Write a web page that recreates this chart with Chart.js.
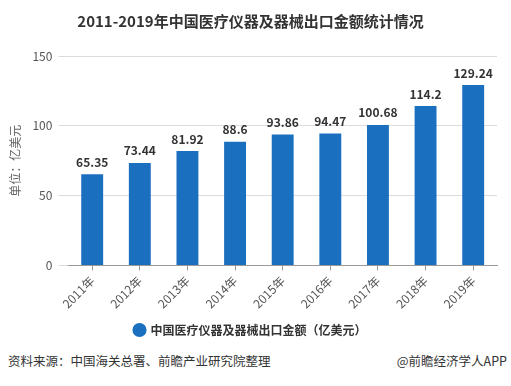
<!DOCTYPE html>
<html>
<head>
<meta charset="utf-8">
<script src="https://cdn.jsdelivr.net/npm/chart.js@4/dist/chart.umd.min.js"></script>
<style>
  html, body { margin: 0; padding: 0; background: #fff; }
  #wrap { position: relative; width: 511px; height: 386px; }
  #footer { position: absolute; left: 8px; right: 4px; top: 351px; font-family: "Noto Sans CJK SC", sans-serif; font-size: 12.5px; color: #333; }
  #footer .r { position: absolute; right: 0; top: 0; }
  canvas { position: absolute; left: 0; top: 0; }
</style>
</head>
<body>
<div id="wrap">
  <canvas id="chart" width="511" height="350"></canvas>
  <div id="footer"><span>资料来源：中国海关总署、前瞻产业研究院整理</span><span class="r">@前瞻经济学人APP</span></div>
</div>
<script>
const years = ["2011年", "2012年", "2013年", "2014年", "2015年", "2016年", "2017年", "2018年", "2019年"];
const exportValues = [65.35, 73.44, 81.92, 88.6, 93.86, 94.47, 100.68, 114.2, 129.24];
const yTicks = [0, 50, 100, 150];
const seriesName = "中国医疗仪器及器械出口金额（亿美元）";

const cjk = '"Noto Sans CJK SC", sans-serif';

// value labels above the bars
const barLabels = {
  id: "barLabels",
  afterDatasetsDraw(chart) {
    const ctx = chart.ctx;
    const meta = chart.getDatasetMeta(0);
    ctx.save();
    ctx.font = "bold 12px " + cjk;
    ctx.fillStyle = "#333";
    ctx.textAlign = "center";
    ctx.textBaseline = "bottom";
    meta.data.forEach((bar, i) => {
      ctx.fillText(exportValues[i], bar.x, bar.y - 6);
    });
    ctx.restore();
  }
};

new Chart(document.getElementById("chart"), {
  type: "bar",
  data: {
    labels: years,
    datasets: [{
      label: seriesName,
      data: exportValues,
      backgroundColor: "#1b6fbf",
      barPercentage: 0.92,
      categoryPercentage: 0.5
    }]
  },
  options: {
    responsive: false,
    animation: false,
    layout: { padding: { left: 4, right: 14, top: 0, bottom: 4 } },
    plugins: {
      title: {
        display: true,
        text: "2011-2019年中国医疗仪器及器械出口金额统计情况",
        color: "#333",
        font: { family: cjk, size: 15, weight: "bold" },
        padding: { top: 12, bottom: 26 }
      },
      legend: {
        position: "bottom",
        labels: {
          usePointStyle: true,
          pointStyle: "circle",
          boxWidth: 10,
          boxHeight: 10,
          color: "#333",
          font: { family: cjk, size: 12, weight: "bold" }
        }
      },
      tooltip: { enabled: false }
    },
    scales: {
      x: {
        grid: { display: true, drawOnChartArea: false, offset: false, tickLength: 5, color: "#999" },
        border: { color: "#999" },
        ticks: {
          color: "#555",
          font: { family: cjk, size: 12 },
          maxRotation: 45,
          minRotation: 45
        }
      },
      y: {
        min: 0,
        max: 150,
        afterBuildTicks(axis) { axis.ticks = yTicks.map(v => ({ value: v })); },
        grid: { color: "#dcdcdc", drawTicks: true, tickLength: 10 },
        border: { display: false },
        ticks: { color: "#555", padding: 6, font: { family: cjk, size: 12 } },
        title: {
          display: true,
          text: "单位：亿美元",
          color: "#666",
          font: { family: cjk, size: 12 }
        }
      }
    }
  },
  plugins: [barLabels]
});
</script>
</body>
</html>
